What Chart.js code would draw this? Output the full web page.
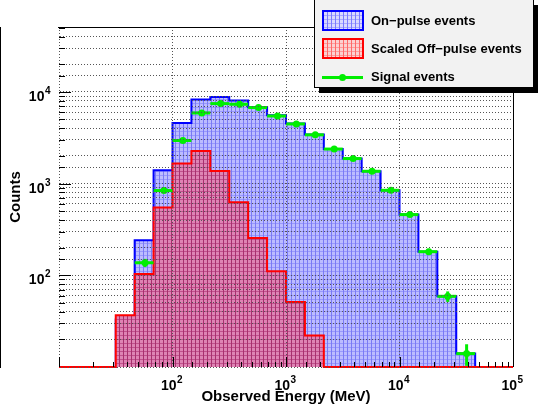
<!DOCTYPE html>
<html>
<head>
<meta charset="utf-8">
<script src="https://cdn.jsdelivr.net/npm/chart.js@4.4.0/dist/chart.umd.min.js"></script>
<style>
  html, body { margin: 0; padding: 0; background: #fff; }
  #wrap { width: 538px; height: 411px; }
</style>
</head>
<body>
<div id="wrap"><canvas id="myChart" width="538" height="411"></canvas></div>
<script>
// Bin edges in MeV (6 log bins per decade, 10 MeV to 100 GeV)
const binEdges = [10, 14.68, 21.54, 31.62, 46.42, 68.13, 100, 146.8, 215.4, 316.2, 464.2, 681.3,
  1000, 1468, 2154, 3162, 4642, 6813, 10000, 14678, 21544, 31623, 46416, 68129, 100000];

// Counts per bin
const onPulse = [0, 0, 0, 33, 241, 1396, 4580, 8240, 8790, 8040, 6840, 5560,
  4510, 3420, 2380, 1875, 1362, 845, 459, 181, 59, 14, 0, 0];
const offPulse = [0, 0, 0, 36.6, 103, 547, 1652, 2270, 1371, 625, 255, 111,
  51, 22, 0, 0, 0, 0, 0, 0, 0, 0, 0, 0];
const signal = [null, null, null, null, 137, 840, 2950, 5890, 7450, 7330, 6750, 5460,
  4470, 3400, 2380, 1875, 1362, 845, 459, 181, 59, 14, null, null];
const signalErr = [0, 0, 0, 0, 14, 35, 60, 95, 105, 100, 90, 80,
  72, 62, 50, 44, 37, 29, 21, 13.5, 7.7, 3.7, 0, 0];

// Tick labels (decades)
const xTickValues = [100, 1000, 10000, 100000];
const xTickExp = ["2", "3", "4", "5"];
const yTickValues = [100, 1000, 10000];
const yTickExp = ["2", "3", "4"];

const seriesNames = ["On\u2212pulse events", "Scaled Off\u2212pulse events", "Signal events"];
const xTitle = "Observed Energy (MeV)";
const yTitle = "Counts";

const yMin = 10;
const yMax = 51000;
const green = "#00ee00";
const FONT = "'Liberation Sans', Arial, Helvetica, sans-serif";

const canvas = document.getElementById("myChart");
const ctx = canvas.getContext("2d");

// small tiled fill, a bit like the ROOT hatch styles
function makePattern(bg, col, row) {
  const c = document.createElement("canvas");
  c.width = 4;
  c.height = 4;
  const g = c.getContext("2d");
  g.fillStyle = bg;
  g.fillRect(0, 0, 4, 4);
  g.fillStyle = row;
  g.fillRect(0, 3, 4, 1);
  g.fillStyle = col;
  g.fillRect(3, 0, 1, 4);
  return ctx.createPattern(c, "repeat");
}

const bluePattern = makePattern("#bcbcff", "#7a7af4", "#9898fc");
const redPattern = makePattern("#de84b4", "#a8306e", "#c0508c");
const blueLegendPattern = makePattern("#d8d8ff", "#7a7aff", "#a8a8ff");
const redLegendPattern = makePattern("#fbd0d0", "#ff6868", "#ff9a9a");

function isPow10(v) {
  const l = Math.log10(v);
  return Math.abs(l - Math.round(l)) < 1e-6;
}

// step outline points: one per low edge, plus the last high edge
function histPoints(vals) {
  const pts = vals.map((v, i) => ({ x: binEdges[i], y: v > 0 ? v : yMin }));
  pts.push({ x: binEdges[vals.length], y: yMin });
  return pts;
}

const signalPoints = [];
for (let i = 0; i < signal.length; i++) {
  if (signal[i] === null) continue;
  signalPoints.push({
    x: (binEdges[i] + binEdges[i + 1]) / 2,
    y: signal[i],
    lo: binEdges[i],
    hi: binEdges[i + 1],
    err: signalErr[i],
  });
}

function superLabel(g, base, exp, x, y, align) {
  g.font = "bold 14px " + FONT;
  const wb = g.measureText(base).width;
  g.font = "bold 10px " + FONT;
  const we = g.measureText(exp).width;
  let start;
  if (align === "center") start = x - (wb + we) / 2;
  else start = x - wb - we;
  g.textAlign = "left";
  g.textBaseline = "alphabetic";
  g.font = "bold 14px " + FONT;
  g.fillText(base, start, y);
  g.font = "bold 10px " + FONT;
  g.fillText(exp, start + wb + 0.5, y - 7);
}

const rootStyle = {
  id: "rootStyle",
  afterDatasetsDraw(chart) {
    const g = chart.ctx;
    const xs = chart.scales.x;
    const ys = chart.scales.y;
    g.save();
    g.strokeStyle = green;
    g.lineWidth = 3;
    signalPoints.forEach((p) => {
      const py = ys.getPixelForValue(p.y);
      g.beginPath();
      g.moveTo(xs.getPixelForValue(p.lo), py);
      g.lineTo(xs.getPixelForValue(p.hi), py);
      g.stroke();
      const top = ys.getPixelForValue(p.y + p.err);
      const bot = ys.getPixelForValue(Math.max(p.y - p.err, yMin));
      g.beginPath();
      g.moveTo(xs.getPixelForValue(p.x), top);
      g.lineTo(xs.getPixelForValue(p.x), bot);
      g.stroke();
    });
    g.restore();
  },
  afterDraw(chart) {
    const g = chart.ctx;
    const a = chart.chartArea;
    const xs = chart.scales.x;
    const ys = chart.scales.y;
    g.save();

    // keep the space above the frame clean
    g.fillStyle = "#fff";
    g.fillRect(0, 0, 320, a.top);

    // frame top / right
    g.strokeStyle = "#000";
    g.lineWidth = 1;
    g.beginPath();
    g.moveTo(a.left - 1, a.top + 0.5);
    g.lineTo(a.right + 0.5, a.top + 0.5);
    g.lineTo(a.right + 0.5, a.bottom);
    g.stroke();

    // tick marks inside the frame
    g.lineWidth = 1;
    ys.ticks.forEach((t) => {
      const py = Math.round(ys.getPixelForValue(t.value)) + 0.5;
      if (py < a.top || py > a.bottom) return;
      const len = isPow10(t.value) ? 12 : 6;
      g.beginPath();
      g.moveTo(a.left, py);
      g.lineTo(a.left + len, py);
      g.stroke();
    });
    xs.ticks.forEach((t) => {
      const px = Math.round(xs.getPixelForValue(t.value)) + 0.5;
      if (px < a.left || px > a.right) return;
      const len = isPow10(t.value) ? 10 : 5;
      g.beginPath();
      g.moveTo(px, a.bottom);
      g.lineTo(px, a.bottom - len);
      g.stroke();
    });

    // tick labels
    g.fillStyle = "#000";
    xTickValues.forEach((v, i) => {
      superLabel(g, "10", xTickExp[i], xs.getPixelForValue(v) - 1, a.bottom + 23, "center");
    });
    yTickValues.forEach((v, i) => {
      superLabel(g, "10", yTickExp[i], a.left - 9, ys.getPixelForValue(v) + 9, "right");
    });

    // axis titles
    g.font = "bold 15px " + FONT;
    g.textAlign = "center";
    g.textBaseline = "alphabetic";
    g.fillText(xTitle, (a.left + a.right) / 2, 400.5);
    g.save();
    g.translate(19.5, (a.top + a.bottom) / 2);
    g.rotate(-Math.PI / 2);
    g.fillText(yTitle, 0, 0);
    g.restore();

    // legend box with shadow
    const lx = 314, ly = -1, lw = 219, lh = 88;
    g.fillStyle = "#000";
    g.fillRect(lx + 5, ly + 6, lw, lh);
    g.fillStyle = "#f2f2f2";
    g.fillRect(lx, ly, lw, lh);
    g.strokeStyle = "#000";
    g.lineWidth = 1;
    g.strokeRect(lx + 0.5, ly + 0.5, lw, lh);

    g.lineWidth = 2;
    g.fillStyle = blueLegendPattern;
    g.fillRect(323, 11, 40, 19);
    g.strokeStyle = "#0000ff";
    g.strokeRect(323, 11, 40, 19);
    g.fillStyle = redLegendPattern;
    g.fillRect(323, 39, 40, 19);
    g.strokeStyle = "#ff0000";
    g.strokeRect(323, 39, 40, 19);

    g.strokeStyle = green;
    g.lineWidth = 3;
    g.beginPath();
    g.moveTo(322, 77.5);
    g.lineTo(363, 77.5);
    g.stroke();
    g.fillStyle = green;
    g.beginPath();
    g.arc(342.5, 77.5, 3.5, 0, Math.PI * 2);
    g.fill();

    g.fillStyle = "#000";
    g.font = "bold 13px " + FONT;
    g.textAlign = "left";
    g.textBaseline = "middle";
    g.fillText(seriesNames[0], 371, 21);
    g.fillText(seriesNames[1], 371, 49);
    g.fillText(seriesNames[2], 371, 77.5);
    g.restore();
  },
};

new Chart(ctx, {
  type: "line",
  data: {
    datasets: [
      {
        label: seriesNames[2],
        data: signalPoints,
        showLine: false,
        pointRadius: 3.5,
        pointBackgroundColor: green,
        pointBorderColor: green,
        pointBorderWidth: 0,
        order: 0,
      },
      {
        label: seriesNames[1],
        data: histPoints(offPulse),
        stepped: "before",
        fill: "start",
        backgroundColor: redPattern,
        borderColor: "#ff0000",
        borderWidth: 2,
        pointRadius: 0,
        clip: false,
        order: 1,
      },
      {
        label: seriesNames[0],
        data: histPoints(onPulse),
        stepped: "before",
        fill: "start",
        backgroundColor: bluePattern,
        borderColor: "#0000ff",
        borderWidth: 2,
        pointRadius: 0,
        clip: false,
        order: 2,
      },
    ],
  },
  options: {
    responsive: false,
    animation: false,
    devicePixelRatio: 1,
    events: [],
    layout: {
      padding: { left: 59, right: 25, top: 27, bottom: 44 },
    },
    scales: {
      x: {
        type: "logarithmic",
        min: 10,
        max: 100000,
        ticks: { display: false },
        grid: {
          z: 1,
          drawTicks: false,
          lineWidth: 1,
          color: (c) => (c.tick && isPow10(c.tick.value) ? "#555" : "transparent"),
        },
        border: { display: true, color: "#000", width: 2, dash: [1, 2] },
      },
      y: {
        type: "logarithmic",
        min: yMin,
        max: yMax,
        ticks: { display: false },
        grid: {
          z: 1,
          drawTicks: false,
          lineWidth: 1,
          color: "#555",
        },
        border: { display: true, color: "#000", width: 2, dash: [1, 2] },
      },
    },
    plugins: {
      legend: { display: false },
      tooltip: { enabled: false },
    },
  },
  plugins: [rootStyle],
});
</script>
</body>
</html>
